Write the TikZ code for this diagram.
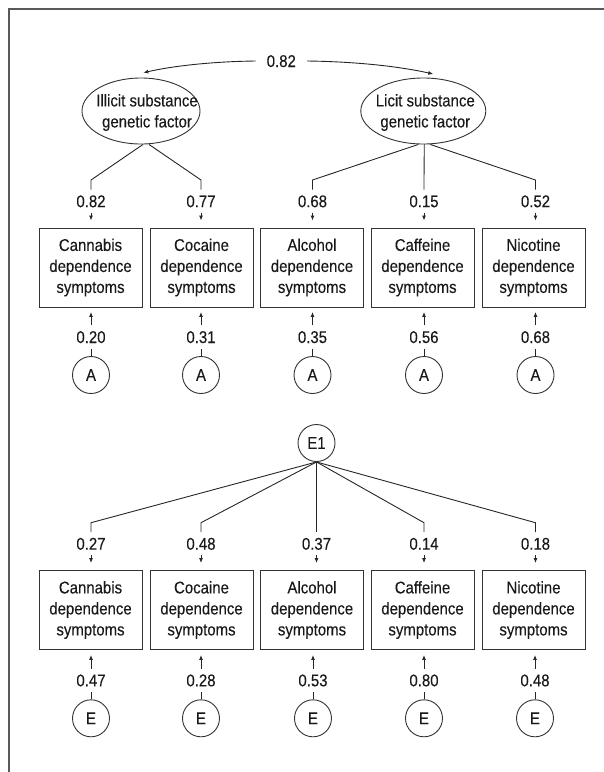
\documentclass[tikz,border=0pt]{standalone}
\usepackage{fontspec}
\setmainfont{Liberation Sans}[FakeStretch=0.88,FakeBold=0.2]
\usetikzlibrary{arrows.meta,calc,shapes.geometric}
\begin{document}
\begin{tikzpicture}[x=1pt,y=-1pt,
  every node/.style={font=\fontsize{17}{21}\selectfont, text=black!90},
  ln/.style={draw=black!85, line width=0.9pt},
  arr/.style={ln, -{Latex[length=5pt,width=4pt]}},
  box/.style={draw=black!80, line width=0.9pt, minimum width=103pt, minimum height=79pt, align=center, inner sep=0pt},
  fac/.style={ellipse, draw=black!80, line width=0.9pt, inner sep=0pt},
  circ/.style={circle, draw=black!80, line width=0.9pt, minimum size=37pt, inner sep=0pt},
  lab/.style={inner xsep=0pt, inner ysep=5.5pt, text height=12pt, text depth=0pt},
]
\useasboundingbox (0,0) rectangle (604,772);
% frame
\draw[draw=black!65, line width=2pt] (9.3,772) -- (9.3,9.3) -- (604,9.3);

% factors
\node[fac, minimum width=118pt, minimum height=66pt,
  label={[xshift=6pt,yshift=-1.5pt,align=center]center:Illicit substance\\genetic factor}] (ill) at (141,111) {};
\node[fac, minimum width=125pt, minimum height=66pt,
  label={[xshift=2pt,yshift=-1.5pt,align=center]center:Licit substance\\genetic factor}] (lic) at (423.3,111) {};

% correlation
\node[lab, inner xsep=11pt] (n0) at (281.3,61) {0.82};
\coordinate (tl) at (143.3,72.7);
\coordinate (tr) at (433.3,74);
\draw[arr] (n0.west) .. controls (215,61.5) and (175,65.5) .. (tl);
\draw[arr] (n0.east) .. controls (350,61.5) and (395,65.5) .. (tr);

% E1
\node[circ] (E1) at (316.5,443) {E1};

\foreach \i/\bx/\lx/\nm/\tl/\ua/\vx/\vl/\ex/\we in {
  1/90.5/91/Cannabis/0.82/0.20/91/0.27/91/0.47,
  2/201.5/201/Cocaine/0.77/0.31/201/0.48/201/0.28,
  3/312/312.5/Alcohol/0.68/0.35/316.5/0.37/313/0.53,
  4/422.5/424/Caffeine/0.15/0.56/424/0.14/424/0.80,
  5/533.5/535.5/Nicotine/0.52/0.68/535.5/0.18/535/0.48}{
  % top section
  \node[box] (b\i) at (\bx,267.5) {\nm\\dependence\\symptoms};
  \node[lab] (t\i) at (\lx,201.2) {\tl};
  \coordinate (k\i) at (\lx,180);
  \draw[arr, shorten >=7pt] (t\i.south) -- (t\i.south |- b\i.north);
  \node[lab] (u\i) at (\lx,337) {\ua};
  \draw[arr, shorten >=4.5pt] (u\i.north) -- (u\i.north |- b\i.south);
  \node[circ] (a\i) at (\lx,375) {A};
  \draw[ln] (a\i) -- (u\i.south);
  % bottom section
  \node[box] (c\i) at (\bx,610) {\nm\\dependence\\symptoms};
  \node[lab] (v\i) at (\vx,543.7) {\vl};
  \coordinate (m\i) at (\vx,522.7);
  \draw[ln] (E1.south) -- (m\i) -- (v\i.north);
  \draw[arr, shorten >=7pt] (v\i.south) -- (v\i.south |- c\i.north);
  \node[lab] (w\i) at (\ex,680.3) {\we};
  \draw[arr, shorten >=5pt] (w\i.north) -- (w\i.north |- c\i.south);
  \node[circ] (e\i) at (\ex,718.3) {E};
  \draw[ln] (e\i) -- (w\i.south);
}

% factor loadings
\draw[ln] ($(ill.south)+(2,0)$) -- (k1) -- (t1.north);
\draw[ln] ($(ill.south)+(8,0)$) -- (k2) -- (t2.north);
\draw[ln] ($(lic.south)+(-5,0)$) -- (k3) -- (t3.north);
\draw[ln] ($(lic.south)+(1,0)$) -- (k4) -- (t4.north);
\draw[ln] ($(lic.south)+(7,0)$) -- (k5) -- (t5.north);
\end{tikzpicture}
\end{document}
